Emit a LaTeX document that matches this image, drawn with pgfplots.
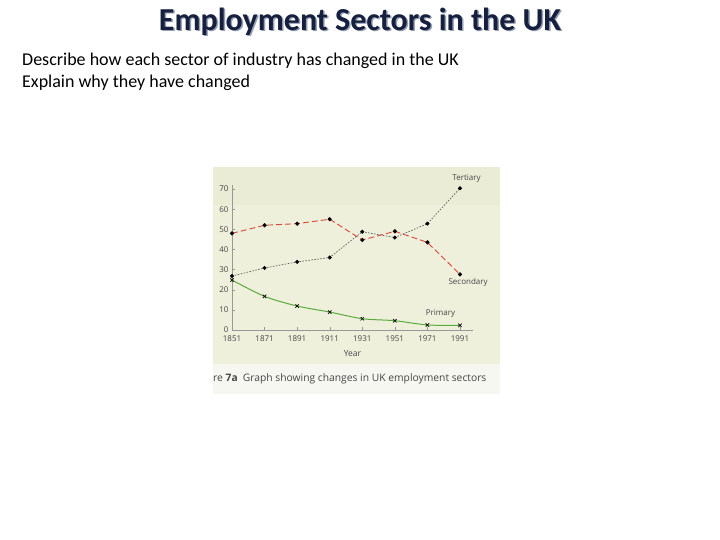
\documentclass[border=0pt]{standalone}
\usepackage{pgfplots}
\pgfplotsset{compat=1.18}
\usepackage{fontspec}
\setmainfont{Carlito}
\newfontfamily\chartfont{Open Sans}

\definecolor{titlenavy}{RGB}{22,32,62}
\definecolor{titleshadow}{RGB}{150,160,180}
\definecolor{chartbg}{RGB}{238,240,220}
\definecolor{chartbgtop}{RGB}{234,236,214}
\definecolor{captionbg}{RGB}{246,247,241}
\definecolor{secred}{RGB}{215,70,55}
\definecolor{prigreen}{RGB}{90,170,60}
\definecolor{tertgray}{RGB}{90,90,90}
\definecolor{ticktext}{RGB}{70,70,70}

\begin{document}
\begin{tikzpicture}[x=1bp,y=1bp]
% slide
\fill[white] (0,0) rectangle (720,540);
% the pasted chart picture
\fill[chartbg] (213,146) rectangle (500,373);
\fill[chartbgtop] (213,335) rectangle (500,373);
\fill[captionbg] (213,146) rectangle (500,176);

% title and questions
\node[titleshadow, font=\bfseries\fontsize{32bp}{36bp}\selectfont] at (361.5,517) {Employment Sectors in the UK};
\node[titlenavy, font=\bfseries\fontsize{32bp}{36bp}\selectfont] at (360,518.5) {Employment Sectors in the UK};
\node[anchor=base west, inner sep=0, font=\fontsize{18bp}{21bp}\selectfont] at (22,474) {Describe how each sector of industry has changed in the UK};
\node[anchor=base west, inner sep=0, font=\fontsize{18bp}{21bp}\selectfont] at (22,452) {Explain why they have changed};

% caption of the chart picture
\node[anchor=base west, inner sep=0, text=ticktext, font=\chartfont\fontsize{10.3bp}{12bp}\selectfont] at (213,158) {re \textbf{7a}\enspace Graph showing changes in UK employment sectors};

\begin{axis}[
    at={(232bp,210bp)}, anchor=south west,
    scale only axis,
    width=241bp, height=145bp,
    xmin=1851, xmax=1999,
    ymin=0, ymax=72,
    axis lines=left,
    axis line style={-, draw=gray!80, line width=0.5pt},
    tick style={draw=gray!80, line width=0.4pt},
    tick align=inside,
    major tick length=3bp,
    xtick={1851,1871,1891,1911,1931,1951,1971,1991},
    ytick={0,10,20,30,40,50,60,70},
    xticklabel style={/pgf/number format/1000 sep=, yshift=-2bp},
    /pgf/number format/assume math mode=true,
    ticklabel style={font=\chartfont\fontsize{8bp}{9bp}\selectfont, text=ticktext},
    xlabel={Year},
    xlabel style={font=\chartfont\fontsize{8.5bp}{9bp}\selectfont, text=ticktext, yshift=-2bp},
    clip=false,
]
% Secondary
\addplot[secred, line width=0.9pt, dash pattern=on 6bp off 3bp, mark=*, mark size=1.6pt,
    mark options={solid, fill=black, draw=black}]
    coordinates {(1851,48) (1871,52) (1891,52.8) (1911,55) (1931,44.7) (1951,49) (1971,43.5) (1991,27.6)};
% Tertiary
\addplot[tertgray, line width=0.7pt, dash pattern=on 1.5bp off 1.5bp, mark=*, mark size=1.6pt,
    mark options={solid, fill=black, draw=black}]
    coordinates {(1851,26.8) (1871,30.8) (1891,33.8) (1911,36) (1931,48.8) (1951,45.9) (1971,52.8) (1991,70.4)};
% Primary
\addplot[prigreen, line width=1pt, smooth, mark=x, mark size=2.4pt,
    mark options={solid, draw=black, line width=0.7pt}]
    coordinates {(1851,24.8) (1871,16.7) (1891,11.9) (1911,8.9) (1931,5.6) (1951,4.6) (1971,2.5) (1991,2.3)};

\node[text=ticktext, font=\chartfont\fontsize{8bp}{9bp}\selectfont] at (axis cs:1995,75) {Tertiary};
\node[text=ticktext, font=\chartfont\fontsize{8bp}{9bp}\selectfont] at (axis cs:1996,23.5) {Secondary};
\node[text=ticktext, font=\chartfont\fontsize{8bp}{9bp}\selectfont] at (axis cs:1979,8) {Primary};
\end{axis}
\end{tikzpicture}
\end{document}
